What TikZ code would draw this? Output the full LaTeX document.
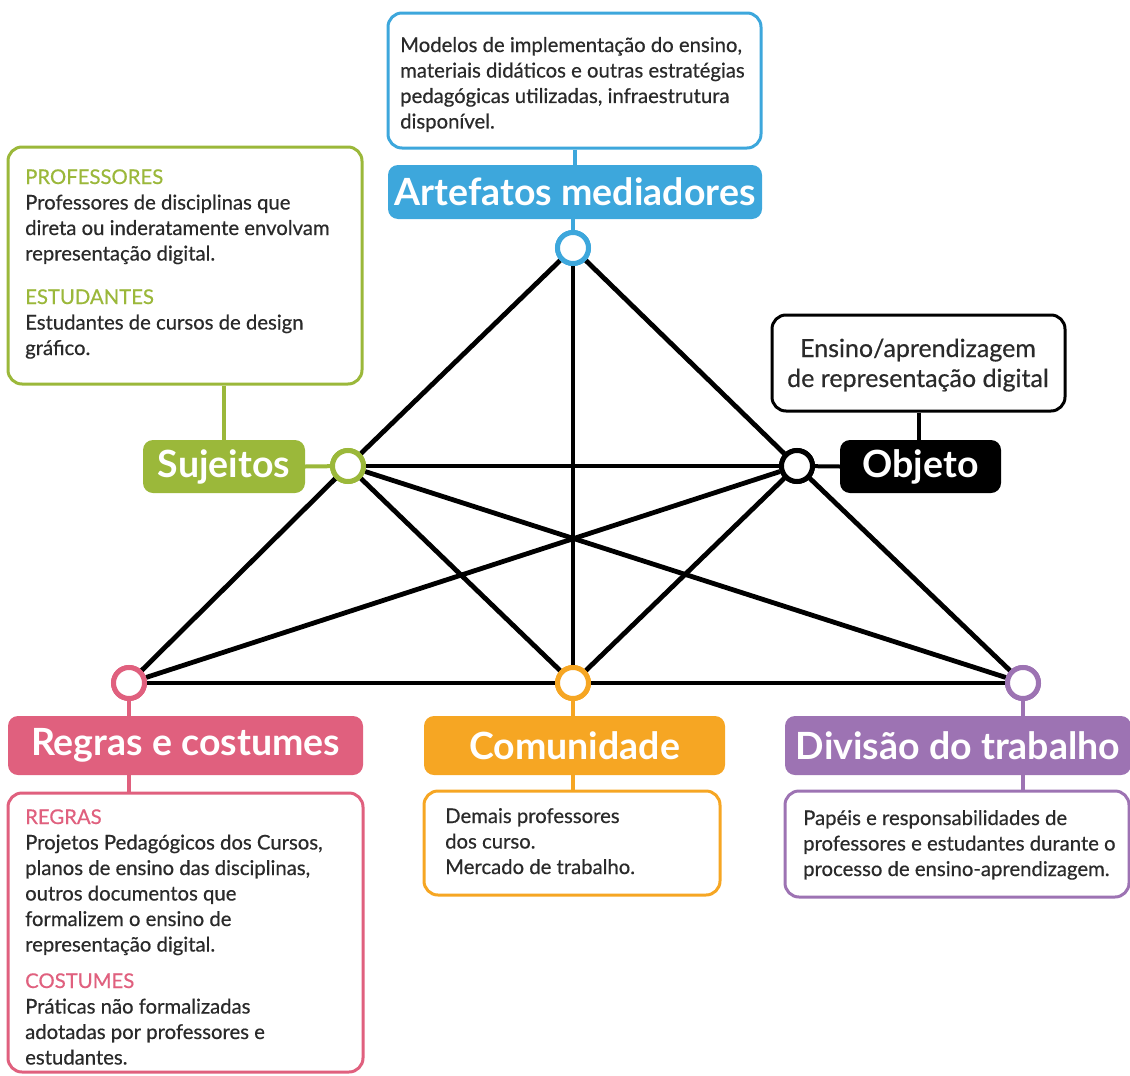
\documentclass[tikz,border=0pt]{standalone}
\usepackage{fontspec}
\setmainfont{Lato}
\newfontfamily\bodyfont{Lato}[FakeBold=0.5]
\definecolor{cblue}{HTML}{3DA7DC}
\definecolor{cgreen}{HTML}{9BB83A}
\definecolor{cpink}{HTML}{E0607E}
\definecolor{corange}{HTML}{F6A623}
\definecolor{cpurple}{HTML}{9D73B3}
\definecolor{txt}{HTML}{2A2A2A}
\tikzset{
  txtbox/.style={draw, rounded corners=14pt, line width=3pt, fill=white, inner sep=0, minimum width=#1},
  lbl/.style={fill, rounded corners=10pt, inner sep=0, text=white,
    font=\bfseries\fontsize{37.5}{40}\selectfont},
  hub/.style={circle, draw, fill=white, line width=5pt, minimum size=31pt, inner sep=0},
  edge/.style={line width=4.8pt, black},
  stem/.style={line width=4pt},
  body/.style={anchor=base west, inner sep=0, text=txt, font=\bodyfont\fontsize{20.3}{25.5}\selectfont},
}
\newcommand{\bodypar}[2]{\parbox[t]{#1}{\raggedright #2}}
\begin{document}
\begin{tikzpicture}[x=1pt,y=-1pt]
\useasboundingbox (0,0) rectangle (1130,1076);

% activity system hubs
\node[hub, draw=cblue]   (A) at (573,248) {};
\node[hub, draw=cgreen]  (S) at (348,466) {};
\node[hub, draw=black]   (O) at (797,466) {};
\node[hub, draw=cpink]   (R) at (129,683) {};
\node[hub, draw=corange] (C) at (573,683) {};
\node[hub, draw=cpurple] (D) at (1023,683) {};

% labelled boxes
\node[lbl, fill=cblue, minimum width=374pt, minimum height=54pt] (lA) at (575,192) {Artefatos mediadores};
\node[lbl, fill=cgreen, minimum width=162pt, minimum height=53pt] (lS) at (224,466.5) {Sujeitos};
\node[lbl, fill=black, minimum width=161pt, minimum height=53pt] (lO) at (920.5,466.5) {Objeto};
\node[lbl, fill=cpink, minimum width=355pt, minimum height=59pt] (lR) at (185.5,745.5) {Regras e costumes};
\node[lbl, fill=corange, minimum width=301pt, minimum height=59pt] (lC) at (574.5,745.5) {Comunidade};
\node[lbl, fill=cpurple, minimum width=346pt, minimum height=59pt] (lD) at (958,745.5) {Divisão do trabalho};

% description frames
\node[txtbox=373pt, draw=cblue, minimum height=135pt] (bA) at (574.5,80.5) {};
\node[txtbox=354pt, draw=cgreen, minimum height=237pt] (bS) at (185,265.5) {};
\node[txtbox=293pt, draw=black, minimum height=96pt] (bO) at (918.5,363) {};
\node[txtbox=355pt, draw=cpink, minimum height=279pt] (bR) at (185.5,932.5) {};
\node[txtbox=296pt, draw=corange, minimum height=104pt] (bC) at (572,843) {};
\node[txtbox=344pt, draw=cpurple, minimum height=106pt] (bD) at (957,844) {};

% stems joining frames, labels and hubs
\draw[stem, cblue] (bA.south -| lA) -- (lA.north);
\draw[stem, cblue] (lA.south -| A) -- (A);
\draw[stem, cgreen] (bS.south -| lS) -- (lS.north);
\draw[stem, cgreen] (lS.east) -- (S);
\draw[stem, black] (bO.south) -- (bO.south |- lO.north);
\draw[stem, black] (lO.west) -- (O);
\draw[stem, cpink] (R) -- (R |- lR.north);
\draw[stem, cpink] (R |- lR.south) -- (R |- bR.north);
\draw[stem, corange] (C) -- (C |- lC.north);
\draw[stem, corange] (C |- lC.south) -- (C |- bC.north);
\draw[stem, cpurple] (D) -- (D |- lD.north);
\draw[stem, cpurple] (D |- lD.south) -- (D |- bD.north);

% network edges
\draw[edge] (R) -- (S);
\draw[edge] (S) -- (A);
\draw[edge] (A) -- (O);
\draw[edge] (O) -- (D);
\draw[edge] (R) -- (C);
\draw[edge] (C) -- (D);
\draw[edge] (S) -- (O);
\draw[edge] (S) -- (C);
\draw[edge] (S) -- (D);
\draw[edge] (O) -- (R);
\draw[edge] (O) -- (C);
\draw[edge] (A) -- (C);

% hubs redrawn above the edges
\node[hub, draw=cblue]   (A2) at (A) {};
\node[hub, draw=cgreen]  (S2) at (S) {};
\node[hub, draw=black]   (O2) at (O) {};
\node[hub, draw=cpink]   (R2) at (R) {};
\node[hub, draw=corange] (C2) at (C) {};
\node[hub, draw=cpurple] (D2) at (D) {};

% texts
\node[body] (tA) at (400,52) {\bodypar{360pt}{Modelos de implementação do ensino,\\
materiais didáticos e outras estratégias\\
pedagógicas utilizadas, infraestrutura\\
disponível.}};
\node[body] (tS) at (25,184) {\bodypar{340pt}{\textcolor{cgreen}{PROFESSORES}\\
Professores de disciplinas que\\
direta ou inderatamente envolvam\\
representação digital.\\[18pt]
\textcolor{cgreen}{ESTUDANTES}\\
Estudantes de cursos de design\\
gráfico.}};
\node[anchor=base, inner sep=0, text=txt, font=\bodyfont\fontsize{25}{30}\selectfont] (tO1) at (918,357) {Ensino/aprendizagem};
\node[anchor=base, inner sep=0, text=txt, font=\bodyfont\fontsize{25}{30}\selectfont] (tO2) at (918,387) {de representação digital};
\node[body] (tR) at (25,824) {\bodypar{340pt}{\textcolor{cpink}{REGRAS}\\
Projetos Pedagógicos dos Cursos,\\
planos de ensino das disciplinas,\\
outros documentos que\\
formalizem o ensino de\\
representação digital.\\[11pt]
\textcolor{cpink}{COSTUMES}\\
Práticas não formalizadas\\
adotadas por professores e\\
estudantes.}};
\node[body] (tC) at (445,823) {\bodypar{280pt}{Demais professores\\
dos curso.\\
Mercado de trabalho.}};
\node[body] (tD) at (803,825) {\bodypar{330pt}{Papéis e responsabilidades de\\
professores e estudantes durante o\\
processo de ensino-aprendizagem.}};
\end{tikzpicture}
\end{document}
